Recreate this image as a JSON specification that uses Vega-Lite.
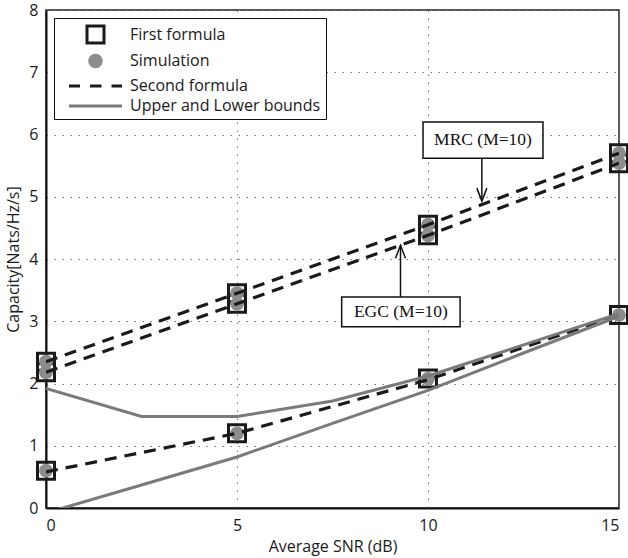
{
  "$schema": "https://vega.github.io/schema/vega-lite/v6.json",
  "width": 573,
  "height": 498,
  "autosize": {"type": "none"},
  "padding": {"left": 46, "top": 10, "right": 9, "bottom": 50},
  "background": "white",
  "config": {
    "font": "Open Sans",
    "view": {"stroke": "#222", "strokeWidth": 1.5},
    "axis": {
      "labelFont": "Open Sans",
      "labelFontSize": 16,
      "labelColor": "#1a1a1a",
      "titleFont": "Open Sans",
      "titleFontSize": 16,
      "titleFontWeight": "normal",
      "titleColor": "#1a1a1a",
      "domainColor": "#111",
      "domainWidth": 2,
      "gridColor": "#777",
      "gridDash": [1.5, 6.5],
      "gridWidth": 1,
      "ticks": false,
      "format": "d"
    },
    "legend": {
      "title": null,
      "orient": "top-left",
      "offset": 8,
      "padding": 5,
      "strokeColor": "#111",
      "fillColor": "white",
      "symbolSize": 400,
      "symbolStrokeWidth": 3,
      "symbolOpacity": 1,
      "symbolOffset": 25,
      "rowPadding": -1.5,
      "labelOffset": 23,
      "labelLimit": 400,
      "labelFont": "Open Sans",
      "labelFontSize": 16,
      "labelColor": "#1a1a1a"
    }
  },
  "datasets": {
    "dashed": [
      {"x": 0, "y": 2.35, "g": "MRC"}, {"x": 5, "y": 3.45, "g": "MRC"}, {"x": 10, "y": 4.55, "g": "MRC"}, {"x": 15, "y": 5.7, "g": "MRC"},
      {"x": 0, "y": 2.18, "g": "EGC"}, {"x": 5, "y": 3.28, "g": "EGC"}, {"x": 10, "y": 4.38, "g": "EGC"}, {"x": 15, "y": 5.54, "g": "EGC"},
      {"x": 0, "y": 0.58, "g": "LOW"}, {"x": 5, "y": 1.2, "g": "LOW"}, {"x": 10, "y": 2.06, "g": "LOW"}, {"x": 15, "y": 3.1, "g": "LOW"}
    ],
    "bounds": [
      {"x": 0, "y": 1.92, "g": "UB"}, {"x": 2.5, "y": 1.47, "g": "UB"}, {"x": 5, "y": 1.47, "g": "UB"}, {"x": 7.5, "y": 1.72, "g": "UB"}, {"x": 10, "y": 2.12, "g": "UB"}, {"x": 12.5, "y": 2.62, "g": "UB"}, {"x": 15, "y": 3.12, "g": "UB"},
      {"x": 0, "y": -0.08, "g": "LB"}, {"x": 2.5, "y": 0.37, "g": "LB"}, {"x": 5, "y": 0.82, "g": "LB"}, {"x": 7.5, "y": 1.36, "g": "LB"}, {"x": 10, "y": 1.89, "g": "LB"}, {"x": 12.5, "y": 2.49, "g": "LB"}, {"x": 15, "y": 3.08, "g": "LB"}
    ],
    "markers": [
      {"x": 0, "y": 2.35}, {"x": 5, "y": 3.45}, {"x": 10, "y": 4.55}, {"x": 15, "y": 5.7},
      {"x": 0, "y": 2.18}, {"x": 5, "y": 3.28}, {"x": 10, "y": 4.38}, {"x": 15, "y": 5.54},
      {"x": 0, "y": 0.6}, {"x": 5, "y": 1.2}, {"x": 10, "y": 2.08}, {"x": 15, "y": 3.1}
    ],
    "boxes": [
      {"left": 9.87, "right": 13.01, "bottom": 5.62, "top": 6.2, "tx": 11.44, "ty": 5.91, "label": "MRC (M=10)"},
      {"left": 7.74, "right": 10.84, "bottom": 2.91, "top": 3.39, "tx": 9.29, "ty": 3.15, "label": "EGC (M=10)"}
    ],
    "arrows": [
      {"x": 11.41, "ystart": 5.62, "yend": 4.93, "dir": "down"},
      {"x": 9.28, "ystart": 3.39, "yend": 4.22, "dir": "up"}
    ]
  },
  "layer": [
    {
      "data": {"name": "markers"},
      "mark": {"type": "point", "filled": true, "size": 400, "strokeWidth": 3, "opacity": 1},
      "encoding": {
        "x": {"field": "x", "type": "quantitative", "scale": {"domain": [0, 15], "nice": false},
              "axis": {"values": [0, 5, 10, 15], "title": "Average SNR (dB)", "labelPadding": 9, "titlePadding": 5, "grid": true}},
        "y": {"field": "y", "type": "quantitative", "scale": {"domain": [0, 8], "nice": false},
              "axis": {"values": [0, 1, 2, 3, 4, 5, 6, 7, 8], "title": "Capacity[Nats/Hz/s]", "labelPadding": 8, "titlePadding": 7, "grid": true}},
        "shape": {
          "datum": "First formula",
          "type": "nominal",
          "scale": {"domain": ["First formula", "Simulation", "Second formula", "Upper and Lower bounds"],
                    "range": ["M-0.85,-0.85H0.85V0.85H-0.85Z",
                              "M-0.72,0A0.72,0.72,0,1,1,0.72,0A0.72,0.72,0,1,1,-0.72,0Z",
                              "M-2.65,0H-1.55M-0.55,0H0.6M1.6,0H2.65",
                              "M-2.65,0H2.65"]},
          "legend": {"encode": {"legend": {"strokeWidth": {"value": 2}}}}
        },
        "fill": {
          "datum": "First formula",
          "type": "nominal",
          "scale": {"domain": ["First formula", "Simulation", "Second formula", "Upper and Lower bounds"],
                    "range": ["transparent", "#8c8c8c", "transparent", "transparent"]},
          "legend": {"encode": {"legend": {"strokeWidth": {"value": 2}}}}
        },
        "stroke": {
          "datum": "First formula",
          "type": "nominal",
          "scale": {"domain": ["First formula", "Simulation", "Second formula", "Upper and Lower bounds"],
                    "range": ["#1a1a1a", "transparent", "#1a1a1a", "#7a7a7a"]},
          "legend": {"encode": {"legend": {"strokeWidth": {"value": 2}}}}
        }
      }
    },
    {
      "data": {"name": "markers"},
      "mark": {"type": "point", "shape": "circle", "filled": true, "size": 190, "opacity": 1, "strokeWidth": 0, "color": "#8c8c8c"},
      "encoding": {
        "x": {"field": "x", "type": "quantitative"},
        "y": {"field": "y", "type": "quantitative"}
      }
    },
    {
      "data": {"name": "dashed"},
      "mark": {"type": "line", "strokeDash": [12, 8], "strokeWidth": 3.2, "clip": true, "color": "#1a1a1a"},
      "encoding": {
        "x": {"field": "x", "type": "quantitative"},
        "y": {"field": "y", "type": "quantitative"},
        "detail": {"field": "g", "type": "nominal"}
      }
    },
    {
      "data": {"name": "bounds"},
      "mark": {"type": "line", "strokeWidth": 3, "clip": true, "color": "#7a7a7a"},
      "encoding": {
        "x": {"field": "x", "type": "quantitative"},
        "y": {"field": "y", "type": "quantitative"},
        "detail": {"field": "g", "type": "nominal"}
      }
    },
    {
      "data": {"name": "arrows"},
      "mark": {"type": "rule", "color": "#111", "strokeWidth": 1.5},
      "encoding": {
        "x": {"field": "x", "type": "quantitative"},
        "y": {"field": "ystart", "type": "quantitative"},
        "y2": {"field": "yend"}
      }
    },
    {
      "data": {"name": "arrows"},
      "transform": [{"filter": "datum.dir === 'down'"}],
      "mark": {"type": "point", "shape": "M-1,-2.6L0,0L1,-2.6", "filled": false, "color": "#111", "strokeWidth": 1.5, "size": 100, "opacity": 1},
      "encoding": {
        "x": {"field": "x", "type": "quantitative"},
        "y": {"field": "yend", "type": "quantitative"}
      }
    },
    {
      "data": {"name": "arrows"},
      "transform": [{"filter": "datum.dir === 'up'"}],
      "mark": {"type": "point", "shape": "M-1,2.6L0,0L1,2.6", "filled": false, "color": "#111", "strokeWidth": 1.5, "size": 100, "opacity": 1},
      "encoding": {
        "x": {"field": "x", "type": "quantitative"},
        "y": {"field": "yend", "type": "quantitative"}
      }
    },
    {
      "data": {"name": "boxes"},
      "mark": {"type": "rect", "fill": "white", "stroke": "#111", "strokeWidth": 1.5},
      "encoding": {
        "x": {"field": "left", "type": "quantitative"},
        "x2": {"field": "right"},
        "y": {"field": "bottom", "type": "quantitative"},
        "y2": {"field": "top"}
      }
    },
    {
      "data": {"name": "boxes"},
      "mark": {"type": "text", "font": "Liberation Serif", "fontSize": 17.5, "color": "#111", "align": "center", "baseline": "middle"},
      "encoding": {
        "x": {"field": "tx", "type": "quantitative"},
        "y": {"field": "ty", "type": "quantitative"},
        "text": {"field": "label"}
      }
    }
  ]
}
